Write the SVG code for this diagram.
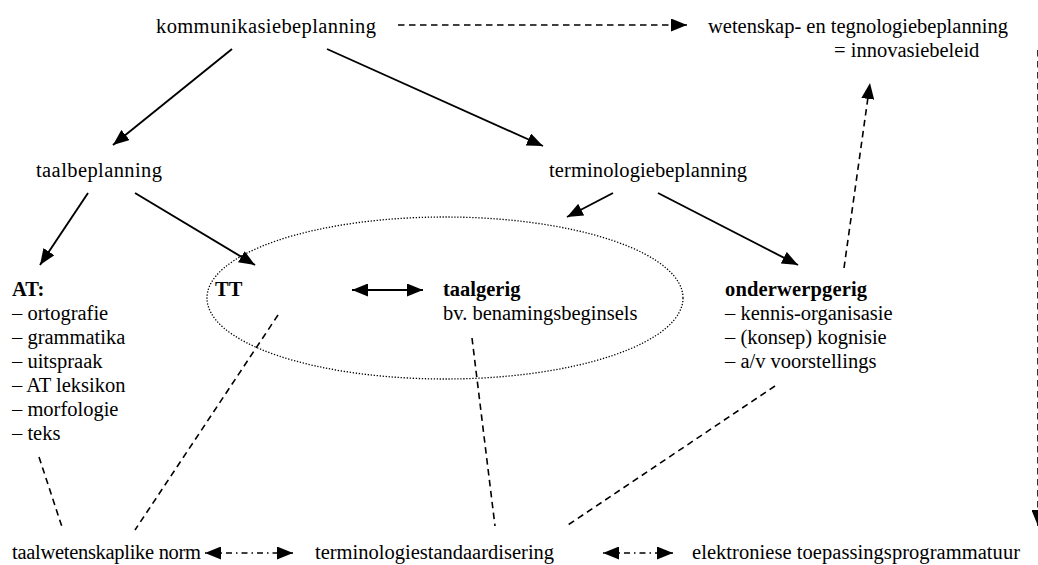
<svg xmlns="http://www.w3.org/2000/svg" width="1038" height="565" viewBox="0 0 1038 565">
<style>
text{font-family:"Liberation Serif","Times New Roman",serif;font-size:20.5px;fill:#000}
.b{font-weight:bold}
.s{stroke:#000;stroke-width:1.9;fill:none}
.d{stroke:#000;stroke-width:1.6;fill:none;stroke-dasharray:6.5 4.5}
.dd{stroke:#000;stroke-width:1.6;fill:none;stroke-dasharray:1.5 4 6 4}
</style>
<defs>
<marker id="ah" markerUnits="userSpaceOnUse" markerWidth="16" markerHeight="13" refX="16" refY="6.5" orient="auto-start-reverse">
<path d="M0,0 L16,6.5 L0,13 z" fill="#000"/>
</marker>
</defs>
<rect width="1038" height="565" fill="#fff"/>
<g id="connectors">
<ellipse cx="445" cy="298" rx="238" ry="81" fill="none" stroke="#000" stroke-width="1.3" stroke-dasharray="1.3 1.7"/>
<line class="d" x1="398" y1="25" x2="687" y2="25" marker-end="url(#ah)"/>
<line class="s" x1="232" y1="49" x2="113" y2="145" marker-end="url(#ah)"/>
<line class="s" x1="327" y1="49" x2="543" y2="146" marker-end="url(#ah)"/>
<line class="s" x1="613" y1="193" x2="567" y2="217" marker-end="url(#ah)"/>
<line class="s" x1="658" y1="193" x2="798" y2="265" marker-end="url(#ah)"/>
<line class="s" x1="88" y1="193" x2="40" y2="265" marker-end="url(#ah)"/>
<line class="s" x1="135" y1="193" x2="255" y2="265" marker-end="url(#ah)"/>
<line class="s" x1="352" y1="290" x2="423" y2="290" marker-start="url(#ah)" marker-end="url(#ah)"/>
<line class="d" x1="39" y1="457" x2="63" y2="530"/>
<line class="d" x1="278" y1="315" x2="135" y2="530"/>
<line class="d" x1="472" y1="338" x2="495" y2="526"/>
<line class="d" x1="775" y1="386" x2="565" y2="527"/>
<line class="d" x1="844" y1="268" x2="870" y2="83" marker-end="url(#ah)"/>
<line class="d" x1="1038" y1="50" x2="1038" y2="526" marker-end="url(#ah)"/>
<line class="dd" x1="205" y1="553" x2="293" y2="553" marker-start="url(#ah)" marker-end="url(#ah)"/>
<line class="dd" x1="603" y1="553" x2="673" y2="553" marker-start="url(#ah)" marker-end="url(#ah)"/>
</g>
<g id="kommunikasie"><text x="156" y="33" textLength="220">kommunikasiebeplanning</text></g>
<g id="wetenskap"><text x="708" y="33" textLength="300">wetenskap- en tegnologiebeplanning</text><text x="834" y="57">= innovasiebeleid</text></g>
<g id="taalbeplanning"><text x="36" y="177" textLength="126">taalbeplanning</text></g>
<g id="terminologiebeplanning"><text x="549" y="177" textLength="198">terminologiebeplanning</text></g>
<g id="AT">
<text class="b" x="12" y="296">AT:</text>
<text x="12" y="320">– ortografie</text>
<text x="12" y="344">– grammatika</text>
<text x="12" y="368">– uitspraak</text>
<text x="12" y="392">– AT leksikon</text>
<text x="12" y="416">– morfologie</text>
<text x="12" y="440">– teks</text>
</g>
<g id="TT"><text class="b" x="215" y="296">TT</text></g>
<g id="taalgerig"><text class="b" x="443" y="296">taalgerig</text><text x="443" y="320">bv. benamingsbeginsels</text></g>
<g id="onderwerpgerig">
<text class="b" x="725" y="296" textLength="142">onderwerpgerig</text>
<text x="725" y="320">– kennis-organisasie</text>
<text x="725" y="344">– (konsep) kognisie</text>
<text x="725" y="368">– a/v voorstellings</text>
</g>
<g id="norm"><text x="12" y="559" textLength="189">taalwetenskaplike norm</text></g>
<g id="standaardisering"><text x="315" y="559">terminologiestandaardisering</text></g>
<g id="programmatuur"><text x="692" y="559" textLength="328">elektroniese toepassingsprogrammatuur</text></g>
</svg>
